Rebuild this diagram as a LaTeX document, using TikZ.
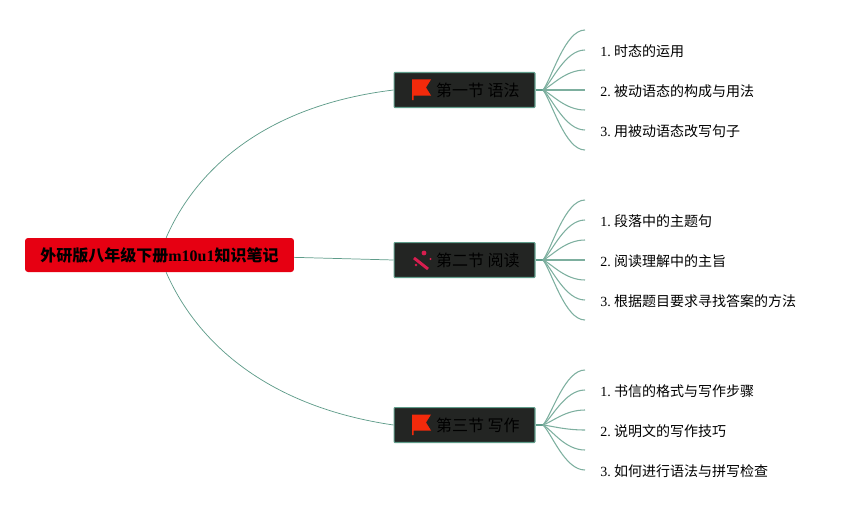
\documentclass[tikz,border=0pt]{standalone}
\usepackage{fontspec}
\setmainfont{Liberation Serif}
\newfontfamily\cjk{Noto Sans CJK SC}
\definecolor{linkgreen}{HTML}{5F9C8A}
\definecolor{fangreen}{HTML}{7DAF9F}
\definecolor{rootred}{HTML}{E60012}
\definecolor{secdark}{HTML}{232523}
\definecolor{flagred}{HTML}{F32A0B}
\definecolor{wandred}{HTML}{D81E4F}
\tikzset{
  rootbox/.style={fill=rootred,rounded corners=2.2pt,minimum width=201.7pt,minimum height=25.5pt,inner sep=0pt,font=\fontsize{12}{14}\selectfont\bfseries},
  secbox/.style={fill=secdark,draw=linkgreen,line width=0.8pt,rounded corners=0.6pt,minimum width=105.7pt,minimum height=26.2pt,inner sep=0pt,font=\fontsize{12}{14}\selectfont},
  leaftext/.style={anchor=west,inner sep=0pt,font=\fontsize{10.5}{13}\selectfont},
  link/.style={draw=linkgreen,line width=0.55pt},
  fanlink/.style={draw=fangreen,line width=0.8pt},
  stemlink/.style={draw=linkgreen,line width=1.3pt}
}
\newcommand{\flagicon}[1]{\fill[flagred,shift={(#1)}] (412,79.5) -- (431,79.5) -- (426,87.5) -- (431,95.5) -- (413.5,95.5) -- (413.5,100) -- (412,100) -- cycle;}
\begin{document}
\begin{tikzpicture}[x=0.75pt,y=-0.75pt]
  \useasboundingbox (0,0) rectangle (856,510);
  \node[rootbox] (root) at (159.5,255) {{\cjk 外研版八年级下册}m10u1{\cjk 知识笔记}};
  \node[secbox] (sec1) at (464.5,90) {\hspace{20pt}{\cjk 第一节 语法}};
  \node[secbox] (sec2) at (464.5,260) {\hspace{20pt}{\cjk 第二节 阅读}};
  \node[secbox] (sec3) at (464.5,425) {\hspace{20pt}{\cjk 第三节 写作}};
  % root to sections
  \draw[link] (root.69) .. controls (198,165) and (270,105) .. (sec1.west);
  \draw[link] (root.-1.5) -- (sec2.west);
  \draw[link] (root.-69) .. controls (198,345) and (270,407) .. (sec3.west);
  % fans of branches
  \foreach \s/\y/\b/\n in {1/90/90/7,2/260/260/7,3/425/430/6} {
    \coordinate (j\s) at (543,\y);
    \draw[stemlink] (sec\s.east) -- (j\s);
    \foreach \i in {1,...,\n} {
      \coordinate (e\s\i) at (585,\b+20*\i-80);
      \draw[fanlink] (j\s) .. controls (552,{\y+0.2*(\b+20*\i-80-\y)}) and (565,\b+20*\i-80) .. (e\s\i);
    }
  }
  % labels
  \node[leaftext] (t11) at (600,51) {1.\kern2.6pt{\cjk 时态的运用}};
  \node[leaftext] (t12) at (600,91) {2.\kern2.6pt{\cjk 被动语态的构成与用法}};
  \node[leaftext] (t13) at (600,131) {3.\kern2.6pt{\cjk 用被动语态改写句子}};
  \node[leaftext] (t21) at (600,221) {1.\kern2.6pt{\cjk 段落中的主题句}};
  \node[leaftext] (t22) at (600,261) {2.\kern2.6pt{\cjk 阅读理解中的主旨}};
  \node[leaftext] (t23) at (600,301) {3.\kern2.6pt{\cjk 根据题目要求寻找答案的方法}};
  \node[leaftext] (t31) at (600,391) {1.\kern2.6pt{\cjk 书信的格式与写作步骤}};
  \node[leaftext] (t32) at (600,431) {2.\kern2.6pt{\cjk 说明文的写作技巧}};
  \node[leaftext] (t33) at (600,471) {3.\kern2.6pt{\cjk 如何进行语法与拼写检查}};
  % icons
  \flagicon{0,0}
  \flagicon{0,335}
  \draw[wandred,line width=2.2pt] (414,258) -- (428,269);
  \fill[wandred] (424,253) circle (2.4);
  \fill[wandred] (430.5,259) circle (1.2);
  \fill[wandred] (416,265) circle (1.4);
\end{tikzpicture}
\end{document}
